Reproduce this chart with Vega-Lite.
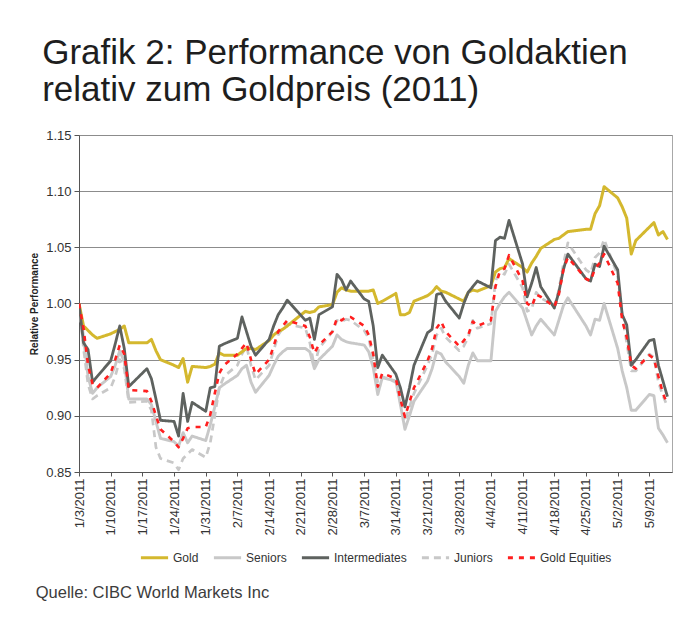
{
  "$schema": "https://vega.github.io/schema/vega-lite/v6.json",
  "padding": {"left": 29, "top": 35, "right": 8, "bottom": 5},
  "background": "white",
  "title": {
    "text": ["Grafik 2: Performance von Goldaktien", "relativ zum Goldpreis (2011)"],
    "anchor": "start",
    "font": "Liberation Sans",
    "fontSize": 35,
    "fontWeight": "normal",
    "color": "#1e1e1e",
    "lineHeight": 37,
    "offset": 21,
    "dx": 13
  },
  "datasets": {
    "perf": [
      {"date": "2011/01/03", "Gold": 1.000, "Seniors": 1.000, "Intermediates": 1.000, "Juniors": 1.000, "Gold Equities": 1.000},
      {"date": "2011/01/04", "Gold": 0.980, "Seniors": 0.970, "Intermediates": 0.965, "Juniors": 0.960, "Gold Equities": 0.978},
      {"date": "2011/01/05", "Gold": 0.976, "Seniors": 0.935, "Intermediates": 0.959, "Juniors": 0.928, "Gold Equities": 0.945},
      {"date": "2011/01/06", "Gold": 0.972, "Seniors": 0.920, "Intermediates": 0.930, "Juniors": 0.915, "Gold Equities": 0.928},
      {"date": "2011/01/07", "Gold": 0.969, "Seniors": 0.925, "Intermediates": 0.935, "Juniors": 0.918, "Gold Equities": 0.925},
      {"date": "2011/01/10", "Gold": 0.973, "Seniors": 0.935, "Intermediates": 0.949, "Juniors": 0.925, "Gold Equities": 0.938},
      {"date": "2011/01/11", "Gold": 0.975, "Seniors": 0.945, "Intermediates": 0.964, "Juniors": 0.935, "Gold Equities": 0.950},
      {"date": "2011/01/12", "Gold": 0.977, "Seniors": 0.958, "Intermediates": 0.980, "Juniors": 0.950, "Gold Equities": 0.963},
      {"date": "2011/01/13", "Gold": 0.980, "Seniors": 0.948, "Intermediates": 0.960, "Juniors": 0.942, "Gold Equities": 0.955},
      {"date": "2011/01/14", "Gold": 0.965, "Seniors": 0.915, "Intermediates": 0.926, "Juniors": 0.912, "Gold Equities": 0.923},
      {"date": "2011/01/18", "Gold": 0.965, "Seniors": 0.915, "Intermediates": 0.942, "Juniors": 0.913, "Gold Equities": 0.922},
      {"date": "2011/01/19", "Gold": 0.968, "Seniors": 0.910, "Intermediates": 0.933, "Juniors": 0.905, "Gold Equities": 0.913},
      {"date": "2011/01/20", "Gold": 0.958, "Seniors": 0.895, "Intermediates": 0.915, "Juniors": 0.872, "Gold Equities": 0.900},
      {"date": "2011/01/21", "Gold": 0.950, "Seniors": 0.880, "Intermediates": 0.896, "Juniors": 0.862, "Gold Equities": 0.888},
      {"date": "2011/01/24", "Gold": 0.945, "Seniors": 0.877, "Intermediates": 0.895, "Juniors": 0.858, "Gold Equities": 0.877},
      {"date": "2011/01/25", "Gold": 0.943, "Seniors": 0.873, "Intermediates": 0.882, "Juniors": 0.852, "Gold Equities": 0.872},
      {"date": "2011/01/26", "Gold": 0.951, "Seniors": 0.885, "Intermediates": 0.920, "Juniors": 0.862, "Gold Equities": 0.880},
      {"date": "2011/01/27", "Gold": 0.930, "Seniors": 0.876, "Intermediates": 0.895, "Juniors": 0.866, "Gold Equities": 0.889},
      {"date": "2011/01/28", "Gold": 0.944, "Seniors": 0.882, "Intermediates": 0.912, "Juniors": 0.870, "Gold Equities": 0.890},
      {"date": "2011/01/31", "Gold": 0.943, "Seniors": 0.878, "Intermediates": 0.904, "Juniors": 0.863, "Gold Equities": 0.890},
      {"date": "2011/02/01", "Gold": 0.944, "Seniors": 0.892, "Intermediates": 0.925, "Juniors": 0.876, "Gold Equities": 0.901},
      {"date": "2011/02/02", "Gold": 0.946, "Seniors": 0.908, "Intermediates": 0.926, "Juniors": 0.900, "Gold Equities": 0.920},
      {"date": "2011/02/03", "Gold": 0.956, "Seniors": 0.925, "Intermediates": 0.962, "Juniors": 0.925, "Gold Equities": 0.938},
      {"date": "2011/02/04", "Gold": 0.954, "Seniors": 0.928, "Intermediates": 0.964, "Juniors": 0.935, "Gold Equities": 0.945},
      {"date": "2011/02/07", "Gold": 0.954, "Seniors": 0.936, "Intermediates": 0.969, "Juniors": 0.945, "Gold Equities": 0.955},
      {"date": "2011/02/08", "Gold": 0.957, "Seniors": 0.942, "Intermediates": 0.988, "Juniors": 0.955, "Gold Equities": 0.960},
      {"date": "2011/02/09", "Gold": 0.960, "Seniors": 0.945, "Intermediates": 0.975, "Juniors": 0.962, "Gold Equities": 0.965},
      {"date": "2011/02/10", "Gold": 0.960, "Seniors": 0.930, "Intermediates": 0.962, "Juniors": 0.945, "Gold Equities": 0.950},
      {"date": "2011/02/11", "Gold": 0.959, "Seniors": 0.921, "Intermediates": 0.954, "Juniors": 0.932, "Gold Equities": 0.937},
      {"date": "2011/02/14", "Gold": 0.967, "Seniors": 0.936, "Intermediates": 0.968, "Juniors": 0.945, "Gold Equities": 0.950},
      {"date": "2011/02/15", "Gold": 0.972, "Seniors": 0.945, "Intermediates": 0.980, "Juniors": 0.958, "Gold Equities": 0.962},
      {"date": "2011/02/16", "Gold": 0.975, "Seniors": 0.953, "Intermediates": 0.990, "Juniors": 0.972, "Gold Equities": 0.975},
      {"date": "2011/02/17", "Gold": 0.977, "Seniors": 0.957, "Intermediates": 0.996, "Juniors": 0.978, "Gold Equities": 0.980},
      {"date": "2011/02/18", "Gold": 0.980, "Seniors": 0.960, "Intermediates": 1.003, "Juniors": 0.982, "Gold Equities": 0.985},
      {"date": "2011/02/22", "Gold": 0.993, "Seniors": 0.960, "Intermediates": 0.985, "Juniors": 0.978, "Gold Equities": 0.980},
      {"date": "2011/02/23", "Gold": 0.992, "Seniors": 0.957, "Intermediates": 0.987, "Juniors": 0.965, "Gold Equities": 0.970},
      {"date": "2011/02/24", "Gold": 0.993, "Seniors": 0.942, "Intermediates": 0.968, "Juniors": 0.944, "Gold Equities": 0.956},
      {"date": "2011/02/25", "Gold": 0.997, "Seniors": 0.950, "Intermediates": 0.990, "Juniors": 0.960, "Gold Equities": 0.963},
      {"date": "2011/02/28", "Gold": 0.999, "Seniors": 0.962, "Intermediates": 0.997, "Juniors": 0.975, "Gold Equities": 0.975},
      {"date": "2011/03/01", "Gold": 1.010, "Seniors": 0.972, "Intermediates": 1.026, "Juniors": 0.985, "Gold Equities": 0.987},
      {"date": "2011/03/02", "Gold": 1.014, "Seniors": 0.968, "Intermediates": 1.021, "Juniors": 0.984, "Gold Equities": 0.985},
      {"date": "2011/03/03", "Gold": 1.012, "Seniors": 0.966, "Intermediates": 1.012, "Juniors": 0.986, "Gold Equities": 0.988},
      {"date": "2011/03/04", "Gold": 1.011, "Seniors": 0.965, "Intermediates": 1.020, "Juniors": 0.985, "Gold Equities": 0.988},
      {"date": "2011/03/07", "Gold": 1.011, "Seniors": 0.963, "Intermediates": 1.004, "Juniors": 0.976, "Gold Equities": 0.980},
      {"date": "2011/03/08", "Gold": 1.011, "Seniors": 0.957, "Intermediates": 1.002, "Juniors": 0.969, "Gold Equities": 0.972},
      {"date": "2011/03/09", "Gold": 1.012, "Seniors": 0.943, "Intermediates": 0.980, "Juniors": 0.950, "Gold Equities": 0.955},
      {"date": "2011/03/10", "Gold": 1.000, "Seniors": 0.919, "Intermediates": 0.943, "Juniors": 0.930, "Gold Equities": 0.926},
      {"date": "2011/03/11", "Gold": 1.002, "Seniors": 0.934, "Intermediates": 0.954, "Juniors": 0.935, "Gold Equities": 0.938},
      {"date": "2011/03/14", "Gold": 1.009, "Seniors": 0.931, "Intermediates": 0.937, "Juniors": 0.930, "Gold Equities": 0.933},
      {"date": "2011/03/15", "Gold": 0.990, "Seniors": 0.910, "Intermediates": 0.925, "Juniors": 0.912, "Gold Equities": 0.915},
      {"date": "2011/03/16", "Gold": 0.990, "Seniors": 0.888, "Intermediates": 0.908, "Juniors": 0.895, "Gold Equities": 0.899},
      {"date": "2011/03/17", "Gold": 0.992, "Seniors": 0.900, "Intermediates": 0.925, "Juniors": 0.908, "Gold Equities": 0.912},
      {"date": "2011/03/18", "Gold": 1.002, "Seniors": 0.913, "Intermediates": 0.945, "Juniors": 0.920, "Gold Equities": 0.925},
      {"date": "2011/03/21", "Gold": 1.007, "Seniors": 0.931, "Intermediates": 0.974, "Juniors": 0.945, "Gold Equities": 0.949},
      {"date": "2011/03/22", "Gold": 1.010, "Seniors": 0.942, "Intermediates": 0.977, "Juniors": 0.955, "Gold Equities": 0.960},
      {"date": "2011/03/23", "Gold": 1.015, "Seniors": 0.957, "Intermediates": 1.008, "Juniors": 0.972, "Gold Equities": 0.978},
      {"date": "2011/03/24", "Gold": 1.011, "Seniors": 0.955, "Intermediates": 1.009, "Juniors": 0.978, "Gold Equities": 0.984},
      {"date": "2011/03/25", "Gold": 1.010, "Seniors": 0.948, "Intermediates": 1.002, "Juniors": 0.970, "Gold Equities": 0.975},
      {"date": "2011/03/28", "Gold": 1.004, "Seniors": 0.935, "Intermediates": 0.987, "Juniors": 0.958, "Gold Equities": 0.962},
      {"date": "2011/03/29", "Gold": 1.002, "Seniors": 0.929, "Intermediates": 1.000, "Juniors": 0.962, "Gold Equities": 0.967},
      {"date": "2011/03/30", "Gold": 1.010, "Seniors": 0.945, "Intermediates": 1.010, "Juniors": 0.970, "Gold Equities": 0.972},
      {"date": "2011/03/31", "Gold": 1.012, "Seniors": 0.956, "Intermediates": 1.015, "Juniors": 0.985, "Gold Equities": 0.984},
      {"date": "2011/04/01", "Gold": 1.011, "Seniors": 0.949, "Intermediates": 1.020, "Juniors": 0.978, "Gold Equities": 0.980},
      {"date": "2011/04/04", "Gold": 1.016, "Seniors": 0.949, "Intermediates": 1.014, "Juniors": 0.982, "Gold Equities": 0.985},
      {"date": "2011/04/05", "Gold": 1.028, "Seniors": 0.993, "Intermediates": 1.056, "Juniors": 1.020, "Gold Equities": 1.015},
      {"date": "2011/04/06", "Gold": 1.031, "Seniors": 1.000, "Intermediates": 1.059, "Juniors": 1.028, "Gold Equities": 1.029},
      {"date": "2011/04/07", "Gold": 1.032, "Seniors": 1.006, "Intermediates": 1.058, "Juniors": 1.026, "Gold Equities": 1.031},
      {"date": "2011/04/08", "Gold": 1.040, "Seniors": 1.010, "Intermediates": 1.074, "Juniors": 1.035, "Gold Equities": 1.043},
      {"date": "2011/04/11", "Gold": 1.032, "Seniors": 0.996, "Intermediates": 1.035, "Juniors": 1.014, "Gold Equities": 1.020},
      {"date": "2011/04/12", "Gold": 1.028, "Seniors": 0.984, "Intermediates": 1.006, "Juniors": 0.993, "Gold Equities": 1.000},
      {"date": "2011/04/13", "Gold": 1.036, "Seniors": 0.972, "Intermediates": 1.018, "Juniors": 0.995, "Gold Equities": 0.997},
      {"date": "2011/04/14", "Gold": 1.042, "Seniors": 0.980, "Intermediates": 1.032, "Juniors": 1.010, "Gold Equities": 1.008},
      {"date": "2011/04/15", "Gold": 1.049, "Seniors": 0.986, "Intermediates": 1.015, "Juniors": 1.005, "Gold Equities": 1.006},
      {"date": "2011/04/18", "Gold": 1.057, "Seniors": 0.972, "Intermediates": 0.996, "Juniors": 0.998, "Gold Equities": 0.997},
      {"date": "2011/04/19", "Gold": 1.058, "Seniors": 0.985, "Intermediates": 1.010, "Juniors": 1.012, "Gold Equities": 1.008},
      {"date": "2011/04/20", "Gold": 1.061, "Seniors": 0.998, "Intermediates": 1.030, "Juniors": 1.035, "Gold Equities": 1.030},
      {"date": "2011/04/21", "Gold": 1.064, "Seniors": 1.005, "Intermediates": 1.044, "Juniors": 1.054, "Gold Equities": 1.041},
      {"date": "2011/04/25", "Gold": 1.066, "Seniors": 0.980, "Intermediates": 1.022, "Juniors": 1.030, "Gold Equities": 1.022},
      {"date": "2011/04/26", "Gold": 1.066, "Seniors": 0.972, "Intermediates": 1.020, "Juniors": 1.027, "Gold Equities": 1.020},
      {"date": "2011/04/27", "Gold": 1.080, "Seniors": 0.986, "Intermediates": 1.035, "Juniors": 1.041, "Gold Equities": 1.031},
      {"date": "2011/04/28", "Gold": 1.087, "Seniors": 0.985, "Intermediates": 1.033, "Juniors": 1.045, "Gold Equities": 1.036},
      {"date": "2011/04/29", "Gold": 1.104, "Seniors": 1.000, "Intermediates": 1.051, "Juniors": 1.057, "Gold Equities": 1.044},
      {"date": "2011/05/02", "Gold": 1.094, "Seniors": 0.960, "Intermediates": 1.030, "Juniors": 1.025, "Gold Equities": 1.018},
      {"date": "2011/05/03", "Gold": 1.086, "Seniors": 0.940, "Intermediates": 0.990, "Juniors": 0.990, "Gold Equities": 0.985},
      {"date": "2011/05/04", "Gold": 1.076, "Seniors": 0.925, "Intermediates": 0.981, "Juniors": 0.965, "Gold Equities": 0.970},
      {"date": "2011/05/05", "Gold": 1.044, "Seniors": 0.905, "Intermediates": 0.945, "Juniors": 0.940, "Gold Equities": 0.945},
      {"date": "2011/05/06", "Gold": 1.056, "Seniors": 0.905, "Intermediates": 0.950, "Juniors": 0.940, "Gold Equities": 0.942},
      {"date": "2011/05/09", "Gold": 1.068, "Seniors": 0.919, "Intermediates": 0.967, "Juniors": 0.955, "Gold Equities": 0.954},
      {"date": "2011/05/10", "Gold": 1.072, "Seniors": 0.918, "Intermediates": 0.968, "Juniors": 0.952, "Gold Equities": 0.951},
      {"date": "2011/05/11", "Gold": 1.061, "Seniors": 0.889, "Intermediates": 0.945, "Juniors": 0.930, "Gold Equities": 0.935},
      {"date": "2011/05/12", "Gold": 1.064, "Seniors": 0.883, "Intermediates": 0.931, "Juniors": 0.918, "Gold Equities": 0.920},
      {"date": "2011/05/13", "Gold": 1.057, "Seniors": 0.876, "Intermediates": 0.917, "Juniors": 0.908, "Gold Equities": 0.910}
    ]
  },
  "vconcat": [
    {
      "width": 593,
      "height": 337,
      "title": {
        "text": "Quelle: CIBC World Markets Inc",
        "orient": "bottom",
        "anchor": "start",
        "font": "Liberation Sans",
        "fontSize": 16.5,
        "fontWeight": "normal",
        "color": "#3c3c3c",
        "offset": 21,
        "dx": 6
      },
      "data": {"name": "perf"},
      "transform": [
        {"fold": ["Seniors", "Juniors", "Gold", "Intermediates", "Gold Equities"], "as": ["series", "value"]}
      ],
      "mark": {"type": "line", "strokeJoin": "round", "clip": true},
      "encoding": {
        "x": {
          "field": "date",
          "type": "temporal",
          "scale": {
            "domain": [{"year": 2011, "month": 1, "date": 3}, {"year": 2011, "month": 5, "date": 14}],
            "nice": false
          },
          "axis": {
            "title": null,
            "grid": false,
            "format": "%-m/%-d/%Y",
            "labelAngle": 270,
            "labelFontSize": 13,
            "tickSize": 4,
            "labelPadding": 2,
            "values": [
              {"year": 2011, "month": 1, "date": 3},
              {"year": 2011, "month": 1, "date": 10},
              {"year": 2011, "month": 1, "date": 17},
              {"year": 2011, "month": 1, "date": 24},
              {"year": 2011, "month": 1, "date": 31},
              {"year": 2011, "month": 2, "date": 7},
              {"year": 2011, "month": 2, "date": 14},
              {"year": 2011, "month": 2, "date": 21},
              {"year": 2011, "month": 2, "date": 28},
              {"year": 2011, "month": 3, "date": 7},
              {"year": 2011, "month": 3, "date": 14},
              {"year": 2011, "month": 3, "date": 21},
              {"year": 2011, "month": 3, "date": 28},
              {"year": 2011, "month": 4, "date": 4},
              {"year": 2011, "month": 4, "date": 11},
              {"year": 2011, "month": 4, "date": 18},
              {"year": 2011, "month": 4, "date": 25},
              {"year": 2011, "month": 5, "date": 2},
              {"year": 2011, "month": 5, "date": 9}
            ]
          }
        },
        "y": {
          "field": "value",
          "type": "quantitative",
          "scale": {"domain": [0.85, 1.15], "nice": false, "zero": false},
          "axis": {
            "title": "Relative Performance",
            "titleFontSize": 10,
            "titleFontWeight": "bold",
            "titleColor": "#222222",
            "titlePadding": 6,
            "values": [0.85, 0.9, 0.95, 1.0, 1.05, 1.1, 1.15],
            "format": ".2f",
            "labelFontSize": 13,
            "tickSize": 5,
            "labelPadding": 3,
            "grid": true,
            "gridColor": "#8c8c8c",
            "gridWidth": 1.2
          }
        },
        "color": {
          "field": "series",
          "type": "nominal",
          "scale": {
            "domain": ["Gold", "Seniors", "Intermediates", "Juniors", "Gold Equities"],
            "range": ["#d4b82e", "#c8c8c8", "#5e625f", "#c8c8c8", "#ff1f1f"]
          },
          "legend": {"title": null}
        },
        "strokeDash": {
          "field": "series",
          "type": "nominal",
          "scale": {
            "domain": ["Gold", "Seniors", "Intermediates", "Juniors", "Gold Equities"],
            "range": [[1, 0], [1, 0], [1, 0], [7, 5], [5, 6]]
          },
          "legend": {"title": null}
        },
        "strokeWidth": {
          "field": "series",
          "type": "nominal",
          "scale": {
            "domain": ["Gold", "Seniors", "Intermediates", "Juniors", "Gold Equities"],
            "range": [3, 2.6, 3.6, 2.6, 3.2]
          },
          "legend": null
        }
      }
    }
  ],
  "resolve": {"legend": {"color": "independent", "strokeDash": "independent"}},
  "config": {
    "view": {"stroke": "#a8a8a8", "strokeWidth": 1},
    "axis": {
      "labelFont": "Liberation Sans",
      "titleFont": "Liberation Sans",
      "labelColor": "#333333",
      "domainColor": "#555555",
      "tickColor": "#555555"
    },
    "legend": {
      "orient": "bottom",
      "direction": "horizontal",
      "symbolType": "stroke",
      "symbolSize": 740,
      "symbolStrokeWidth": 3,
      "labelFont": "Liberation Sans",
      "labelFontSize": 12,
      "labelColor": "#333333",
      "labelOffset": 3,
      "columnPadding": 8,
      "offset": 7,
      "layout": {"bottom": {"anchor": "middle"}}
    }
  }
}
